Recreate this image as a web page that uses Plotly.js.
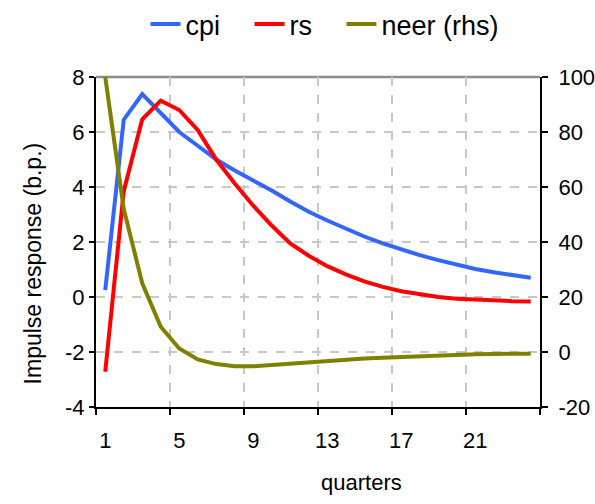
<!DOCTYPE html>
<html>
<head>
<meta charset="utf-8">
<script src="https://cdn.plot.ly/plotly-3.0.1.min.js"></script>
<style>html,body{margin:0;padding:0;background:#fff;}#chart{width:595px;height:504px;}</style>
</head>
<body>
<div id="chart"></div>
<script>
// Data
const quarters = [1,2,3,4,5,6,7,8,9,10,11,12,13,14,15,16,17,18,19,20,21,22,23,24];
const cpi = [0.25,6.45,7.38,6.68,6.0,5.5,5.0,4.6,4.25,3.87,3.47,3.1,2.78,2.48,2.2,1.95,1.72,1.52,1.34,1.17,1.02,0.9,0.8,0.7];
const rs  = [-2.72,3.85,6.46,7.14,6.8,6.07,5.0,4.13,3.32,2.6,1.95,1.5,1.12,0.82,0.57,0.37,0.21,0.09,0.0,-0.06,-0.1,-0.13,-0.15,-0.16];
const neer = [100,52,25,9.2,1.3,-2.7,-4.4,-5.2,-5.2,-4.7,-4.1,-3.6,-3.2,-2.8,-2.4,-2.05,-1.75,-1.45,-1.2,-1.0,-0.85,-0.72,-0.65,-0.6];
const xTickVals = [1,5,9,13,17,21];
const xTickLabels = ['1','5','9','13','17','21'];
const xBoundaries = [0.5,4.5,8.5,12.5,16.5,20.5,24.5];
const yLeftVals = [-4,-2,0,2,4,6,8];
const yLeftLabels = ['-4','-2','0','2','4','6','8'];
const yRightVals = [-20,0,20,40,60,80,100];
const yRightLabels = ['-20','0','20','40','60','80','100'];

const FONT = 'Liberation Sans, Arial, sans-serif';

const traces = [
  {x: quarters, y: cpi, name: 'cpi', type: 'scatter', mode: 'lines', legend: 'legend',
   line: {color: '#3366FF', width: 4}, xaxis: 'x', yaxis: 'y'},
  {x: quarters, y: rs, name: 'rs', type: 'scatter', mode: 'lines', legend: 'legend2',
   line: {color: '#FF0000', width: 4}, xaxis: 'x', yaxis: 'y'},
  {x: quarters, y: neer, name: 'neer (rhs)', type: 'scatter', mode: 'lines', legend: 'legend3',
   line: {color: '#808000', width: 4}, xaxis: 'x2', yaxis: 'y2', cliponaxis: false}
];

function legendAt(xp) {
  return {orientation: 'h', x: xp, xanchor: 'left', y: 1, yref: 'container', yanchor: 'top',
          font: {family: FONT, size: 27, color: '#000'}, bgcolor: 'rgba(0,0,0,0)'};
}

const layout = {
  width: 595, height: 504,
  margin: {l: 96, r: 55, t: 77, b: 97},
  paper_bgcolor: '#fff', plot_bgcolor: '#fff',
  font: {family: FONT, size: 22, color: '#000'},
  showlegend: true,
  legend: legendAt(0.1115),
  legend2: legendAt(0.3458),
  legend3: legendAt(0.5528),
  xaxis: {
    range: [0.5, 24.5], tickvals: xBoundaries, ticktext: xBoundaries.map(() => ''),
    ticks: 'outside', ticklen: 6, tickwidth: 1.5, tickcolor: '#000',
    showline: true, linecolor: '#000', linewidth: 2,
    showgrid: true, gridcolor: '#c8c8c8', griddash: 'dash', gridwidth: 1.5,
    zeroline: false
  },
  xaxis2: {
    overlaying: 'x', anchor: 'y', side: 'bottom', range: [0.5, 24.5],
    tickvals: xTickVals, ticktext: xTickLabels, ticks: '', showline: false,
    showgrid: false, zeroline: false, ticklabelstandoff: 18,
    tickfont: {family: FONT, size: 22, color: '#000'}
  },
  yaxis: {
    range: [-4, 8], tickvals: yLeftVals, ticktext: yLeftLabels,
    ticks: 'outside', ticklen: 5, tickwidth: 1.5, tickcolor: '#000',
    showline: true, linecolor: '#000', linewidth: 2,
    showgrid: true, gridcolor: '#c8c8c8', griddash: 'dash', gridwidth: 1.5,
    zeroline: false, tickfont: {family: FONT, size: 22, color: '#000'}
  },
  yaxis2: {
    overlaying: 'y', anchor: 'x2', side: 'right', range: [-20, 100], tickvals: yRightVals, ticktext: yRightLabels,
    ticks: 'outside', ticklen: 6, tickwidth: 1.5, tickcolor: '#000',
    showline: true, linecolor: '#000', linewidth: 2,
    showgrid: false, zeroline: false, ticklabelstandoff: 6,
    tickfont: {family: FONT, size: 22, color: '#000'}
  },
  shapes: [
    {type: 'line', xref: 'paper', yref: 'paper', x0: 0, x1: 1, y0: 1, y1: 1,
     line: {color: '#8c8c8c', width: 2.5}, layer: 'below'}
  ],
  annotations: [
    {text: 'Impulse response (b.p.)', xref: 'paper', yref: 'paper', x: -0.142, y: 0.435, xanchor: 'center', yanchor: 'middle',
     textangle: -90, showarrow: false, font: {family: FONT, size: 23, color: '#000'}},
    {text: 'quarters', xref: 'paper', yref: 'paper', x: 0.597, y: -0.23, xanchor: 'center', yanchor: 'middle',
     showarrow: false, font: {family: FONT, size: 22, color: '#000'}}
  ]
};

Plotly.newPlot('chart', traces, layout, {displayModeBar: false, staticPlot: true});
</script>
</body>
</html>
